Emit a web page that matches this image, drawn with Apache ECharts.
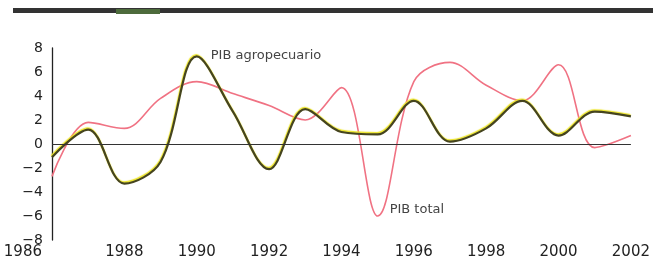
<!DOCTYPE html>
<html>
<head>
<meta charset="utf-8">
<script src="https://cdn.jsdelivr.net/npm/echarts@6/dist/echarts.min.js"></script>
<style>
  html, body { margin: 0; padding: 0; background: #fff; }
  #chart { width: 653px; height: 262px; }
</style>
</head>
<body>
<div id="chart"></div>
<script>
// años y tasas de crecimiento (%)
const anios = [1986, 1987, 1988, 1989, 1990, 1991, 1992, 1993, 1994,
  1995, 1996, 1997, 1998, 1999, 2000, 2001, 2002];
const pibAgropecuario = [-1.1, 1.2, -3.3, -1.5, 7.3, 2.7, -2.1, 2.9, 1.0,
  0.8, 3.6, 0.2, 1.3, 3.6, 0.7, 2.7, 2.3];
const pibTotal = [-2.7, 1.8, 1.3, 3.8, 5.2, 4.2, 3.2, 2.0, 4.7,
  -6.0, 5.2, 6.8, 4.9, 3.6, 6.6, -0.3, 0.7];
const etiquetaAgro = "PIB agropecuario";
const etiquetaTotal = "PIB total";

let myChart = echarts.init(document.getElementById("chart"));

let datosAgro = anios.map((a, i) => [a, pibAgropecuario[i]]);
let datosTotal = anios.map((a, i) => [a, pibTotal[i]]);
let iMaxAgro = pibAgropecuario.indexOf(Math.max(...pibAgropecuario));
let iMinTotal = pibTotal.indexOf(Math.min(...pibTotal));

let option = {
  animation: false,
  backgroundColor: "#fff",
  grid: { left: 52, right: 20, top: 48, bottom: 22 },
  graphic: [
    { type: "rect", shape: { x: 13, y: 8, width: 640, height: 5 }, style: { fill: "#333" } },
    { type: "rect", shape: { x: 116, y: 9, width: 44, height: 5 }, style: { fill: "#4d6b3c" } },
  ],
  xAxis: {
    type: "value",
    min: 1986,
    max: 2002,
    interval: 2,
    axisLine: { show: false },
    axisTick: { show: false },
    splitLine: { show: false },
    axisLabel: {
      margin: 5,
      fontFamily: "DejaVu Sans",
      fontSize: 15,
      color: "#222",
      alignMinLabel: "right",
      formatter: (v) => (v === 1986 ? "{p|" + v + "}" : String(v)),
      rich: { p: { padding: [0, 10, 0, 0], fontFamily: "DejaVu Sans", fontSize: 15, color: "#222" } },
    },
  },
  yAxis: {
    type: "value",
    min: -8,
    max: 8,
    interval: 2,
    axisLine: { show: true, lineStyle: { color: "#222", width: 1.3 } },
    axisTick: { show: false },
    splitLine: { show: false },
    axisLabel: {
      margin: 9,
      fontFamily: "DejaVu Sans",
      fontSize: 14,
      color: "#222",
      formatter: (v) => String(v).replace("-", "\u2212"),
    },
  },
  series: [
    {
      name: etiquetaTotal,
      type: "line",
      data: datosTotal,
      smooth: 0.35,
      symbol: "none",
      lineStyle: { color: "#f07283", width: 1.6 },
      markLine: {
        silent: true,
        symbol: "none",
        label: { show: false },
        lineStyle: { color: "#333", width: 1.2, type: "solid" },
        data: [{ yAxis: 0 }],
      },
      markPoint: {
        symbol: "circle",
        symbolSize: 0,
        data: [{ coord: datosTotal[iMinTotal] }],
        label: {
          show: true,
          position: "right",
          distance: 0,
          offset: [12, -6],
          formatter: etiquetaTotal,
          fontFamily: "DejaVu Sans",
          fontSize: 13,
          color: "#444",
        },
      },
      z: 2,
    },
    {
      name: etiquetaAgro,
      type: "line",
      data: datosAgro,
      smooth: 0.35,
      symbol: "none",
      lineStyle: {
        color: "#45441f",
        width: 2.2,
        shadowColor: "#ece426",
        shadowBlur: 1,
        shadowOffsetX: -0.5,
        shadowOffsetY: -1.3,
      },
      markPoint: {
        symbol: "circle",
        symbolSize: 0,
        data: [{ coord: datosAgro[iMaxAgro] }],
        label: {
          show: true,
          position: "right",
          distance: 0,
          offset: [14, -1],
          formatter: etiquetaAgro,
          fontFamily: "DejaVu Sans",
          fontSize: 13,
          color: "#444",
        },
      },
      z: 3,
    },
  ],
};
option && myChart.setOption(option);
</script>
</body>
</html>
